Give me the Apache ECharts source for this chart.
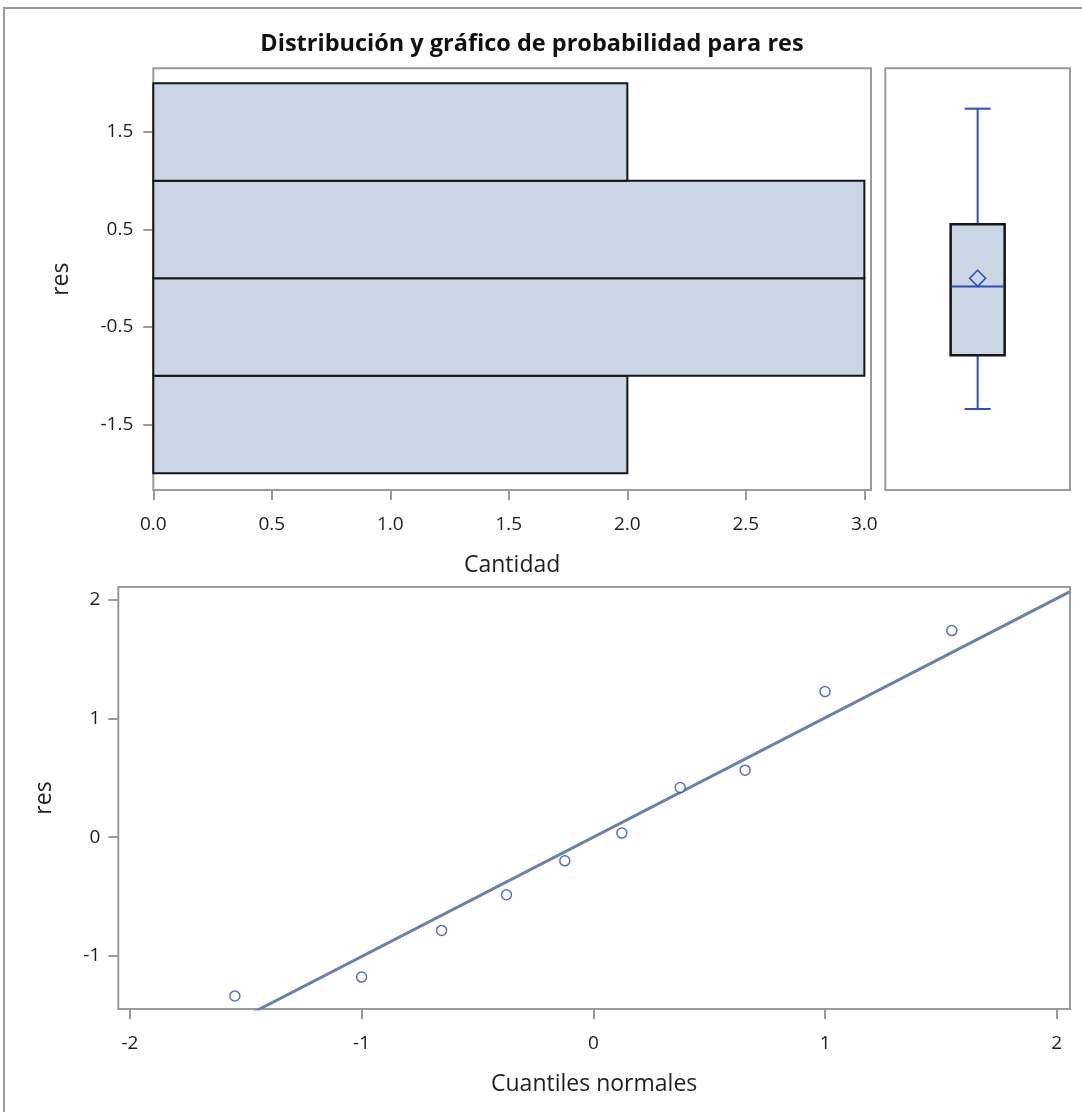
<!DOCTYPE html>
<html>
<head>
<meta charset="utf-8">
<script src="https://cdn.jsdelivr.net/npm/echarts@6/dist/echarts.min.js"></script>
<style>
html,body{margin:0;padding:0;background:#fff;}
#chart{width:1082px;height:1112px;}
</style>
</head>
<body>
<div id="chart"></div>
<script>
// ---- Data ----
var titleText = 'Distribución y gráfico de probabilidad para res';
// histogram bins (lower edge, upper edge) and counts
var binLow = [-2, -1, 0, 1];
var binHigh = [-1, 0, 1, 2];
var binCount = [2, 3, 3, 2];
// box plot stats: min, Q1, median, Q3, max, mean
var boxStats = [-1.34, -0.79, -0.085, 0.555, 1.74, 0.0];
// normal quantiles (x) and ordered residuals (y)
var normalQuantiles = [-1.547, -1.0, -0.655, -0.375, -0.123, 0.123, 0.375, 0.655, 1.0, 1.547];
var residuals = [-1.337, -1.178, -0.785, -0.485, -0.199, 0.035, 0.419, 0.565, 1.227, 1.741];
// tick labels
var histXTicks = [0, 0.5, 1, 1.5, 2, 2.5, 3];
var histYTicks = [-1.5, -0.5, 0.5, 1.5];
var qqXTicks = [-2, -1, 0, 1, 2];
var qqYTicks = [-1, 0, 1, 2];

// reference line from data: mean + sd * z
var n = residuals.length;
var mean = residuals.reduce(function(a,b){return a+b;},0)/n;
var sd = Math.sqrt(residuals.reduce(function(a,b){return a+(b-mean)*(b-mean);},0)/(n-1));

var FONT = '"Open Sans", "Noto Sans", sans-serif';
var GRAY = '#9a9a9a';
var TXT = '#1e1e1e';
var BLUE = '#2b4fb3';
var FILL = '#cad5e5';

var qqXMin = -2.05, qqXMax = 2.057;
var qqYMin = -1.447, qqYMax = 2.108;
var histYMin = -2.171, histYMax = 2.154;

var lineData = [[qqXMin, mean + sd*qqXMin], [qqXMax, mean + sd*qqXMax]];

var chart = echarts.init(document.getElementById('chart'), null, {renderer:'canvas'});

function valAxisCommon(ticks, fmt, labelMargin){
  return {
    type:'value',
    axisLine:{show:false, onZero:false},
    splitLine:{show:false},
    axisTick:{show:true, customValues:ticks, length:10, inside:false, lineStyle:{color:GRAY, width:2}},
    axisLabel:{show:true, customValues:ticks, formatter:fmt, color:TXT, fontSize:19, fontFamily:FONT, margin:labelMargin}
  };
}

var histData = binLow.map(function(l,i){return [binLow[i], binHigh[i], binCount[i]];});
var nameStyle = {color:TXT, fontSize:23, fontFamily:FONT};

var option = {
  animation:false,
  backgroundColor:'#fff',
  graphic:[
    {type:'rect', shape:{x:4, y:8, width:1200, height:1200}, style:{fill:null, stroke:GRAY, lineWidth:2}, silent:true, z:-10},
    {type:'text', x:532, y:44, style:{text:titleText, fill:'#111', font:'bold 23.5px ' + FONT, textAlign:'center', textVerticalAlign:'middle'}}
  ],
  grid:[
    {left:153.3, top:68.3, width:717.7, height:421.7, show:true, borderColor:GRAY, borderWidth:2, backgroundColor:'transparent'},
    {left:885.3, top:68.3, width:184.7, height:421.7, show:true, borderColor:GRAY, borderWidth:2, backgroundColor:'transparent'},
    {left:118.3, top:587, width:951.7, height:422, show:true, borderColor:GRAY, borderWidth:2, backgroundColor:'transparent'}
  ],
  xAxis:[
    Object.assign(valAxisCommon(histXTicks, function(v){return v.toFixed(1);}, 25), {
      gridIndex:0, min:0, max:3.028, position:'bottom',
      name:'Cantidad', nameLocation:'middle', nameGap:64, nameTextStyle:nameStyle
    }),
    {type:'value', gridIndex:1, min:0, max:1, show:false},
    Object.assign(valAxisCommon(qqXTicks, function(v){return String(v);}, 25), {
      gridIndex:2, min:qqXMin, max:qqXMax, position:'bottom',
      name:'Cuantiles normales', nameLocation:'middle', nameGap:64, nameTextStyle:nameStyle
    })
  ],
  yAxis:[
    Object.assign(valAxisCommon(histYTicks, function(v){return v.toFixed(1);}, 20), {
      gridIndex:0, min:histYMin, max:histYMax, position:'left',
      name:'res', nameLocation:'middle', nameGap:80, nameRotate:90, nameTextStyle:nameStyle
    }),
    {type:'value', gridIndex:1, min:histYMin, max:histYMax, show:false},
    Object.assign(valAxisCommon(qqYTicks, function(v){return String(v);}, 18), {
      gridIndex:2, min:qqYMin, max:qqYMax, position:'left',
      name:'res', nameLocation:'middle', nameGap:62, nameRotate:90, nameTextStyle:nameStyle
    })
  ],
  series:[
    {
      type:'custom', xAxisIndex:0, yAxisIndex:0,
      data:histData,
      renderItem:function(params, api){
        var p0 = api.coord([0, api.value(1)]);
        var p1 = api.coord([api.value(2), api.value(0)]);
        return {type:'rect', shape:{x:p0[0], y:p0[1], width:p1[0]-p0[0], height:p1[1]-p0[1]},
          style:{fill:FILL, stroke:'#151515', lineWidth:2}};
      }
    },
    {
      type:'custom', xAxisIndex:1, yAxisIndex:1,
      data:[[0.5].concat(boxStats)],
      renderItem:function(params, api){
        var x = api.value(0);
        var cMin = api.coord([x, api.value(1)]);
        var cQ1 = api.coord([x, api.value(2)]);
        var cMed = api.coord([x, api.value(3)]);
        var cQ3 = api.coord([x, api.value(4)]);
        var cMax = api.coord([x, api.value(5)]);
        var cMean = api.coord([x, api.value(6)]);
        var cx = cMin[0];
        var hw = 27, cw = 13, d = 8;
        var ws = {stroke:BLUE, lineWidth:2};
        return {type:'group', children:[
          {type:'line', shape:{x1:cx, y1:cQ3[1], x2:cx, y2:cMax[1]}, style:ws},
          {type:'line', shape:{x1:cx, y1:cQ1[1], x2:cx, y2:cMin[1]}, style:ws},
          {type:'line', shape:{x1:cx-cw, y1:cMax[1], x2:cx+cw, y2:cMax[1]}, style:ws},
          {type:'line', shape:{x1:cx-cw, y1:cMin[1], x2:cx+cw, y2:cMin[1]}, style:ws},
          {type:'rect', shape:{x:cx-hw, y:cQ3[1], width:2*hw, height:cQ1[1]-cQ3[1]}, style:{fill:FILL, stroke:'#151515', lineWidth:2.5}},
          {type:'line', shape:{x1:cx-hw+1, y1:cMed[1], x2:cx+hw-1, y2:cMed[1]}, style:ws},
          {type:'polygon', shape:{points:[[cx, cMean[1]-d],[cx+d, cMean[1]],[cx, cMean[1]+d],[cx-d, cMean[1]]]}, style:{fill:null, stroke:BLUE, lineWidth:1.5}}
        ]};
      }
    },
    {
      type:'line', xAxisIndex:2, yAxisIndex:2,
      data:lineData, symbol:'none', z:2,
      lineStyle:{color:'#6a82aa', width:3}
    },
    {
      type:'scatter', xAxisIndex:2, yAxisIndex:2, z:3,
      data:normalQuantiles.map(function(q,i){return [q, residuals[i]];}),
      symbol:'circle', symbolSize:10,
      itemStyle:{color:'#ffffff', borderColor:BLUE, borderWidth:1.5}
    }
  ]
};
chart.setOption(option);
</script>
</body>
</html>
